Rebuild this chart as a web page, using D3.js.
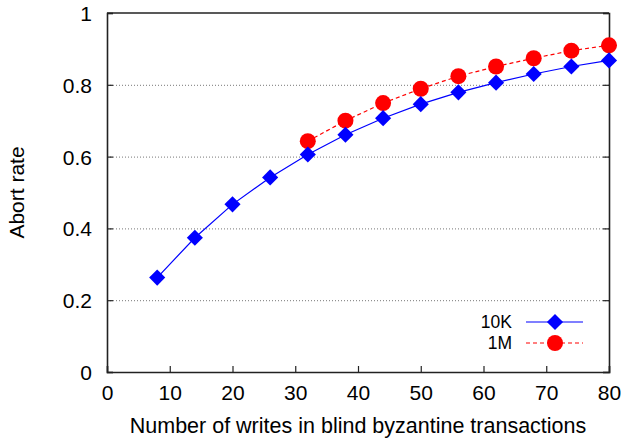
<!DOCTYPE html>
<html>
<head>
<meta charset="utf-8">
<script src="https://cdn.jsdelivr.net/npm/d3@7"></script>
<style>
  body { margin: 0; background: #fff; }
  text { font-family: "Liberation Sans", Arial, sans-serif; fill: #000; }
</style>
</head>
<body>
<div id="chart"></div>
<script>
var margin = {top: 13, right: 26, bottom: 68, left: 107};
var width = 635 - margin.left - margin.right;
var height = 440 - margin.top - margin.bottom;

// Data
var writes = [8, 14, 20, 26, 32, 38, 44, 50, 56, 62, 68, 74, 80];
var rate10K = [0.263, 0.374, 0.467, 0.542, 0.606, 0.661, 0.707, 0.746, 0.779, 0.806, 0.830, 0.851, 0.868];
var writes1M = [32, 38, 44, 50, 56, 62, 68, 74, 80];
var rate1M = [0.643, 0.700, 0.749, 0.789, 0.824, 0.851, 0.874, 0.895, 0.910];
var xTicks = [0, 10, 20, 30, 40, 50, 60, 70, 80];
var yTicks = [0, 0.2, 0.4, 0.6, 0.8, 1];
var gridTicks = [0.2, 0.4, 0.6, 0.8];
var seriesNames = ["10K", "1M"];

var svg = d3.select("#chart")
    .append("svg")
    .attr("width", width + margin.left + margin.right)
    .attr("height", height + margin.top + margin.bottom)
    .append("g")
    .attr("transform", `translate(${margin.left}, ${margin.top})`);

var xScale = d3.scaleLinear().domain([0, 80]).range([0, width]);
var yScale = d3.scaleLinear().domain([0, 1]).range([height, 0]);

// grid lines
var grid = svg.append("g")
    .call(d3.axisLeft(yScale).tickValues(gridTicks).tickSize(-width).tickFormat(""));
grid.select(".domain").remove();
grid.selectAll("line")
    .attr("stroke", "#777")
    .attr("stroke-width", 1)
    .attr("stroke-dasharray", "1,2");

// axes
var xAxis = svg.append("g")
    .attr("transform", `translate(0, ${height})`)
    .call(d3.axisBottom(xScale).tickValues(xTicks).tickSize(-6).tickPadding(13).tickFormat(d3.format("d")));

var yAxis = svg.append("g")
    .call(d3.axisLeft(yScale).tickValues(yTicks).tickSize(-6).tickPadding(15).tickFormat(d3.format("")));

var yAxisRight = svg.append("g")
    .attr("transform", `translate(${width}, 0)`)
    .call(d3.axisRight(yScale).tickValues(yTicks).tickSize(-6).tickFormat(""));

[xAxis, yAxis, yAxisRight].forEach(function(a) {
  a.selectAll("text")
    .style("font-size", "21px")
    .style("font-family", "'Liberation Sans', Arial, sans-serif")
    .attr("fill", "#000");
  a.selectAll("line").attr("stroke", "#222").attr("stroke-width", 1.2);
  a.select(".domain").attr("stroke", "#222").attr("stroke-width", 1.6);
});
yAxis.selectAll("text").attr("dy", "0.36em");

// top border
svg.append("line")
    .attr("x1", 0).attr("x2", width)
    .attr("y1", 0).attr("y2", 0)
    .attr("stroke", "#222")
    .attr("stroke-width", 1.6);

// lines
var line = d3.line()
    .x(function(d) { return xScale(d[0]); })
    .y(function(d) { return yScale(d[1]); });

var data10K = writes.map(function(w, i) { return [w, rate10K[i]]; });
var data1M = writes1M.map(function(w, i) { return [w, rate1M[i]]; });

svg.append("path")
    .datum(data1M)
    .attr("d", line)
    .attr("fill", "none")
    .attr("stroke", "#ff0000")
    .attr("stroke-width", 1.2)
    .attr("stroke-dasharray", "4,3");

svg.append("path")
    .datum(data10K)
    .attr("d", line)
    .attr("fill", "none")
    .attr("stroke", "#0000ff")
    .attr("stroke-width", 1.2);

// markers
var diamond = d3.symbol().type(d3.symbolSquare).size(130);
var circle = d3.symbol().type(d3.symbolCircle).size(201);

svg.selectAll(".m1M")
    .data(data1M)
    .enter().append("path")
    .attr("class", "m1M")
    .attr("d", circle)
    .attr("transform", function(d) { return `translate(${xScale(d[0])}, ${yScale(d[1])})`; })
    .attr("fill", "#ff0000");

svg.selectAll(".m10K")
    .data(data10K)
    .enter().append("path")
    .attr("class", "m10K")
    .attr("d", diamond)
    .attr("transform", function(d) { return `translate(${xScale(d[0])}, ${yScale(d[1])}) rotate(45)`; })
    .attr("fill", "#0000ff");

// legend
var legend = svg.append("g")
    .attr("transform", `translate(${width - 97}, ${height - 50})`);

legend.append("text")
    .attr("x", 0).attr("y", 0)
    .attr("dy", "0.36em")
    .attr("text-anchor", "end")
    .style("font-size", "17.5px")
    .text(seriesNames[0]);
legend.append("line")
    .attr("x1", 14).attr("x2", 71).attr("y1", 0).attr("y2", 0)
    .attr("stroke", "#0000ff").attr("stroke-width", 1.2);
legend.append("path")
    .attr("d", diamond)
    .attr("transform", "translate(43, 0) rotate(45)")
    .attr("fill", "#0000ff");

legend.append("text")
    .attr("x", 0).attr("y", 21)
    .attr("dy", "0.36em")
    .attr("text-anchor", "end")
    .style("font-size", "17.5px")
    .text(seriesNames[1]);
legend.append("line")
    .attr("x1", 14).attr("x2", 71).attr("y1", 21).attr("y2", 21)
    .attr("stroke", "#ff0000").attr("stroke-width", 1.2)
    .attr("stroke-dasharray", "4,3");
legend.append("path")
    .attr("d", circle)
    .attr("transform", "translate(43, 21)")
    .attr("fill", "#ff0000");

// labels
svg.append("text")
    .attr("x", width / 2)
    .attr("y", height + 61)
    .attr("text-anchor", "middle")
    .style("font-size", "21.5px")
    .text("Number of writes in blind byzantine transactions");

svg.append("text")
    .attr("transform", "rotate(-90)")
    .attr("x", -height / 2)
    .attr("y", -83)
    .attr("text-anchor", "middle")
    .style("font-size", "21px")
    .text("Abort rate");
</script>
</body>
</html>
